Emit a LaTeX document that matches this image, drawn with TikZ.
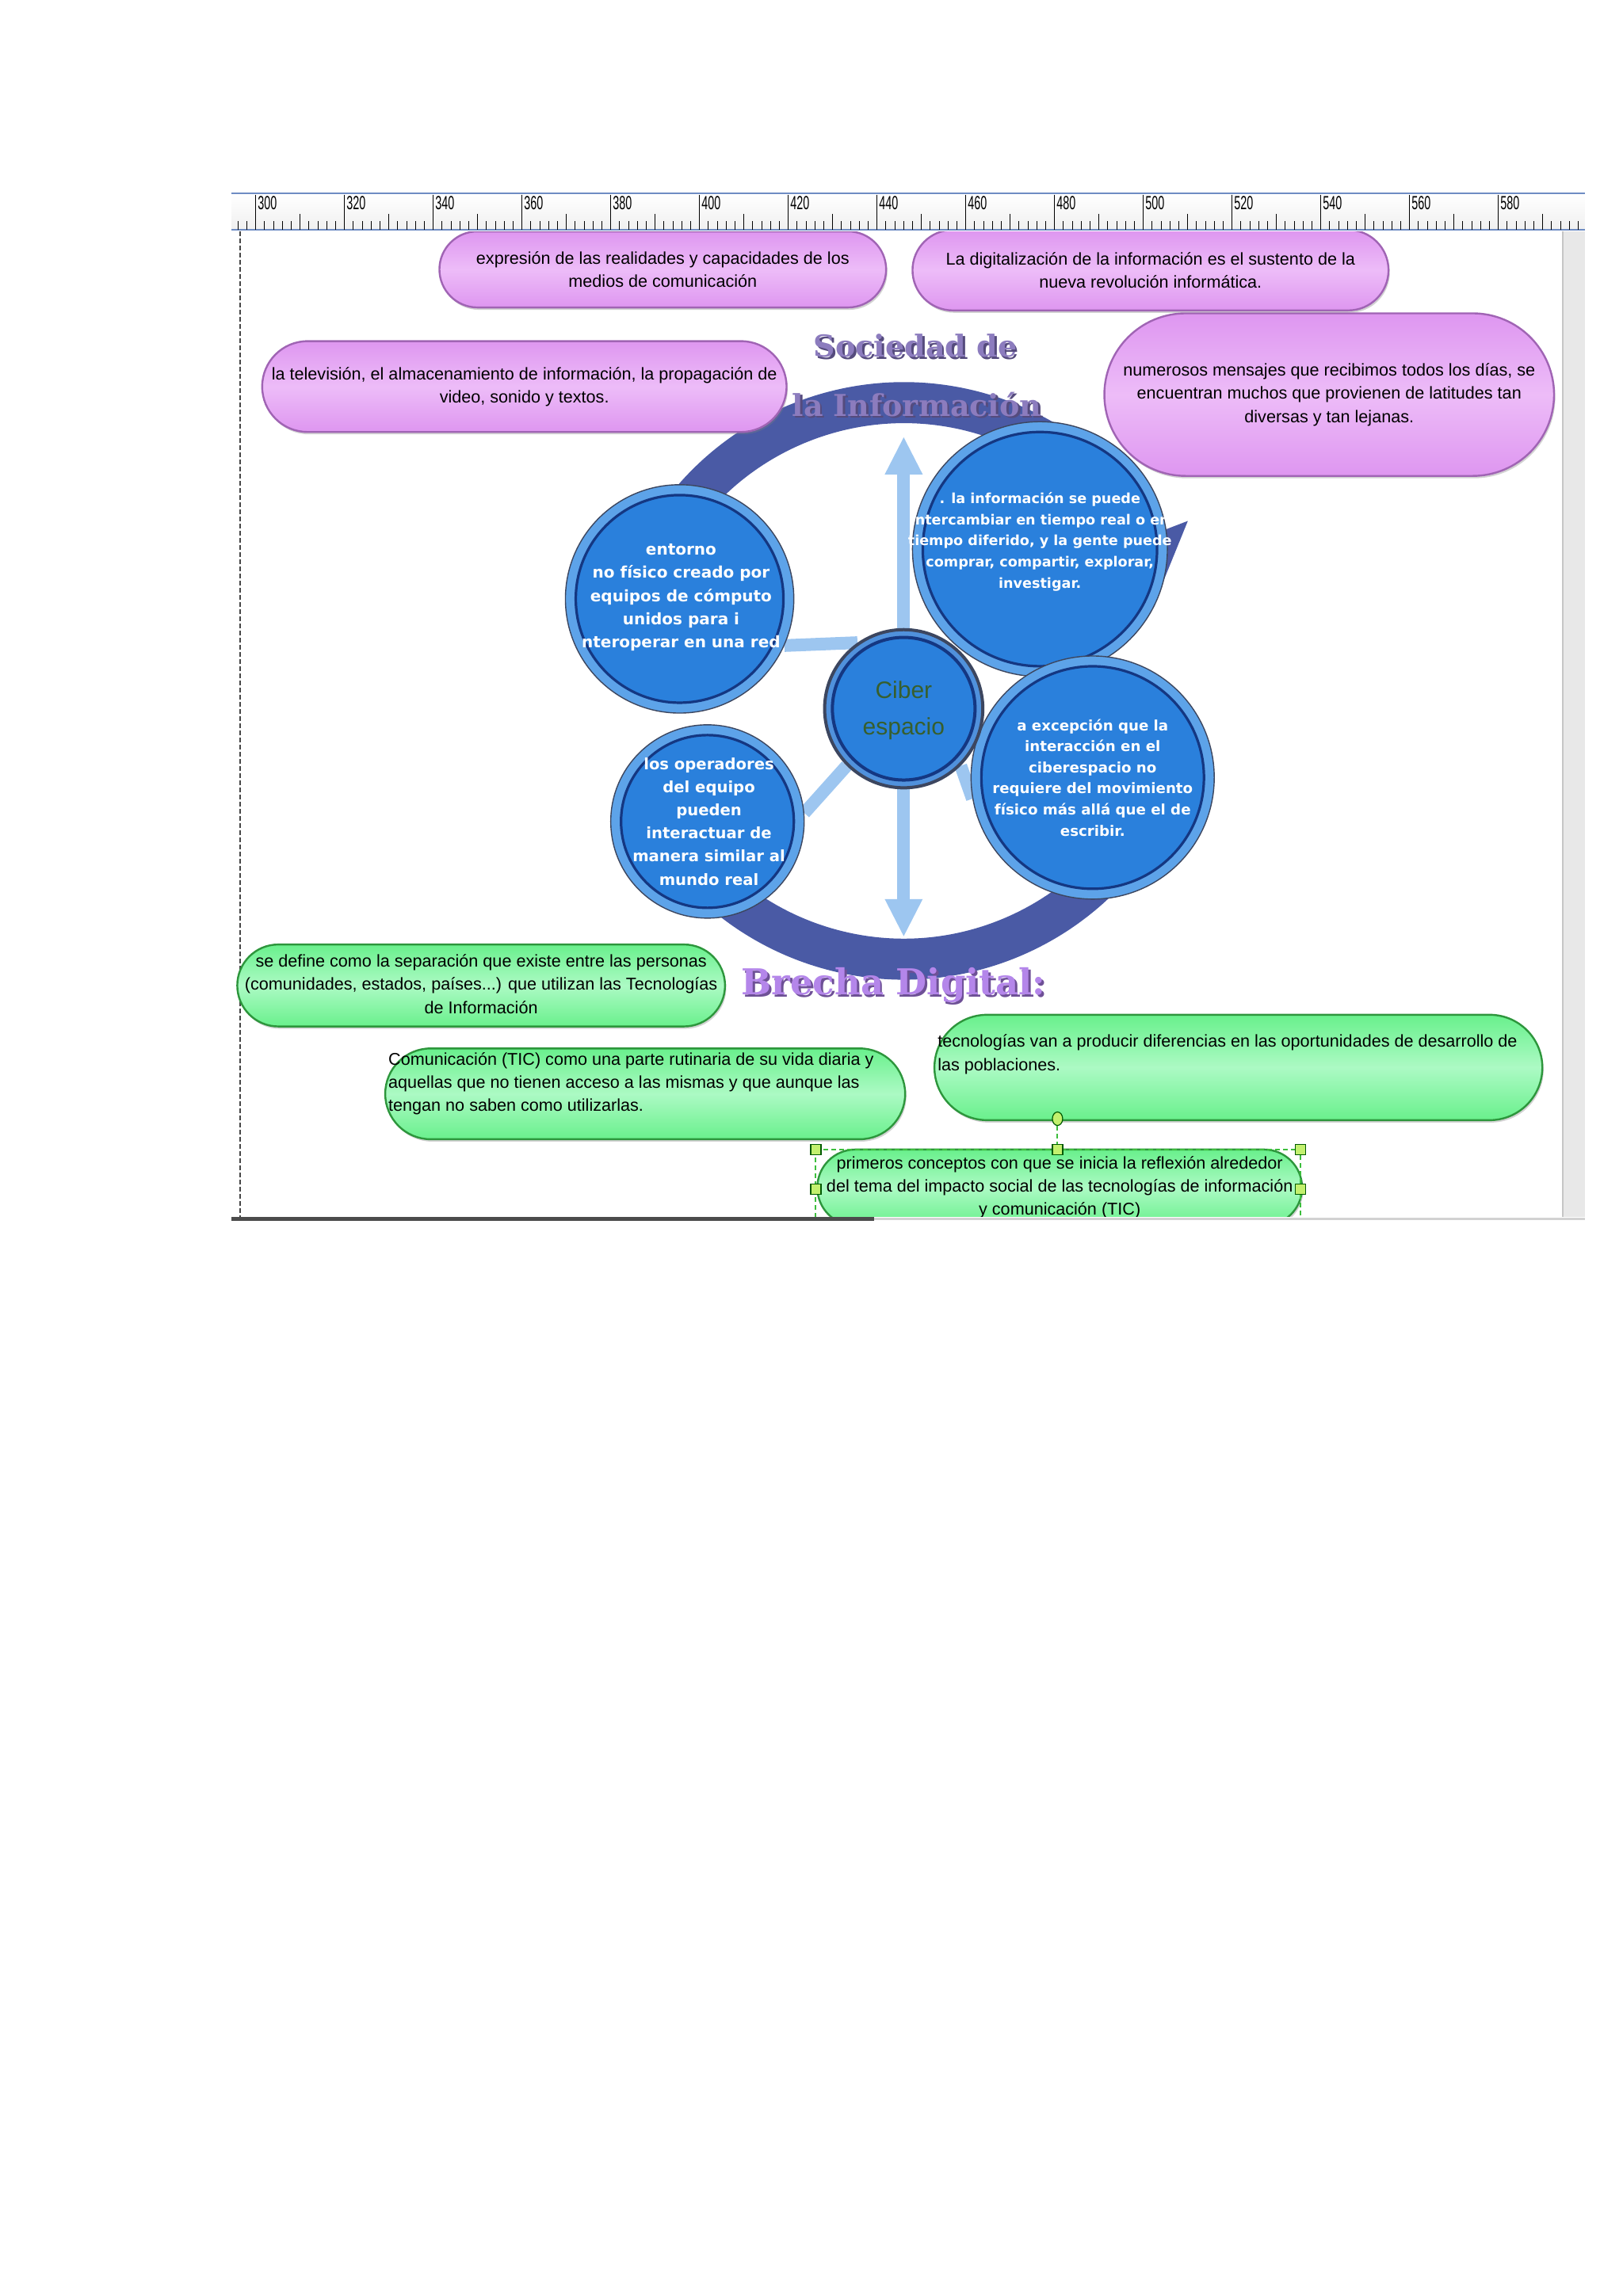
\documentclass[tikz,border=0pt]{standalone}
\usepackage{fontspec}
\setmainfont{Liberation Sans}
\newfontfamily\circfont{DejaVu Sans}
\newfontfamily\titlefont{DejaVu Serif}
\usetikzlibrary{shapes.misc,shapes.geometric,arrows.meta,shadows}
\pgfdeclarelayer{paper}
\pgfdeclarelayer{back}
\pgfsetlayers{paper,back,main}

\definecolor{ringblue}{RGB}{74,90,165}
\definecolor{connblue}{RGB}{157,198,240}
\definecolor{outerblue}{RGB}{93,163,233}
\definecolor{innerblue}{RGB}{42,128,220}
\definecolor{navyc}{RGB}{20,55,130}
\definecolor{circedge}{RGB}{60,70,95}
\definecolor{purpA}{RGB}{222,150,240}
\definecolor{purpB}{RGB}{237,188,248}
\definecolor{purpEdge}{RGB}{160,100,180}
\definecolor{greenA}{RGB}{105,240,140}
\definecolor{greenB}{RGB}{172,250,196}
\definecolor{greenEdge}{RGB}{45,150,60}
\definecolor{titleviolet}{RGB}{140,124,190}
\definecolor{titleshadow}{RGB}{85,75,125}
\definecolor{brechaviolet}{RGB}{180,134,234}
\definecolor{brechashadow}{RGB}{110,80,150}
\definecolor{cibergreen}{RGB}{55,95,45}
\definecolor{rulerblue}{RGB}{110,140,195}
\definecolor{selgreen}{RGB}{60,190,60}
\definecolor{handlefill}{RGB}{195,240,110}

\begin{document}
\begin{tikzpicture}[x=0.924pt, y=-0.924pt,
  pbox/.style={rounded rectangle, draw=purpEdge, line width=1.2pt, top color=purpA, bottom color=purpA, middle color=purpB, inner sep=0pt, drop shadow={shadow xshift=0.8pt, shadow yshift=-1.5pt, opacity=0.35}},
  gbox/.style={rounded rectangle, draw=greenEdge, line width=1.2pt, top color=greenA, bottom color=greenA, middle color=greenB, inner sep=0pt, drop shadow={shadow xshift=0.8pt, shadow yshift=-1.5pt, opacity=0.35}},
  boxtext/.style={font=\fontsize{10.8}{14.6}\selectfont, align=center, inner sep=0pt},
  bcirc/.style 2 args={circle, minimum size=#1, inner sep=0pt, draw=circedge, line width=0.7pt, fill=outerblue,
     path picture={\draw[navyc, line width=1.6pt, fill=innerblue] (path picture bounding box.center) circle[radius=#2];}},
  ccirc/.style={circle, minimum size=99.8pt, inner sep=0pt, draw=circedge, line width=2pt, fill={rgb,255:red,80;green,145;blue,220},
     path picture={\draw[navyc, line width=2pt, fill=innerblue] (path picture bounding box.center) circle[radius=45pt];}},
  circtext/.style={text=white, align=center, inner sep=0pt, font=\circfont\bfseries\fontsize{#1}{14.6}\selectfont},
  circtextsm/.style={text=white, align=center, inner sep=0pt, font=\circfont\bfseries\fontsize{#1}{13.3}\selectfont},
  titlest/.style={inner sep=0pt, font=\titlefont\bfseries\fontsize{#1}{#1}\selectfont},
  conn/.style={connblue, line width=8pt},
  connarrow/.style={conn, -{Triangle[width=22pt,length=24pt]}},
  ringst/.style={ringblue, line width=25.9pt},
  handle/.style={rectangle, draw=green!35!black, fill=handlefill, line width=0.6pt, minimum size=6.5pt, inner sep=0pt},
  selline/.style={selgreen, line width=1pt, dash pattern=on 3pt off 2pt}
]
\begin{pgfonlayer}{paper}
  \fill[white] (0,0) rectangle (1108,1568);
\end{pgfonlayer}
\useasboundingbox (0,0) rectangle (1108,1568);

% ruler
\fill[top color=white, bottom color=gray!12] (158,132) rectangle (1082,157);
\draw[rulerblue, line width=1.2pt] (158,132) -- (1082,132);
\draw[rulerblue, line width=1.2pt] (158,157) -- (1082,157);
\foreach \u in {296,298,...,598} { \draw[black, line width=0.5pt] ({174.6+3.03*(\u-300)},151) -- ++(0,6); }
\foreach \u in {300,310,...,590} { \draw[black, line width=0.5pt] ({174.6+3.03*(\u-300)},146) -- ++(0,11); }
\foreach \u in {300,320,...,580} {
  \draw[black, line width=0.6pt] ({174.6+3.03*(\u-300)},133) -- ++(0,24);
  \node[anchor=north west, inner sep=0pt] (rl\u) at ({175.8+3.03*(\u-300)},134) {\scalebox{0.6}[1]{\fontsize{12}{12}\selectfont \u}};
}

% page frame
\draw[gray!55!black, line width=0.8pt, dash pattern=on 3pt off 1.5pt] (164,158) -- (164,831);
\fill[gray!18] (1067,158) rectangle (1082,831);
\draw[gray!45, line width=0.6pt] (1067,158) -- (1067,831);
\draw[gray!60!black, line width=2.5pt] (158,832.5) -- (597,832.5);
\draw[gray!35, line width=1.5pt] (597,832.5) -- (1082,832.5);

\coordinate (ringc) at (617,465);
\coordinate (upTip) at (617,298);
\coordinate (downTip) at (617,640);

\begin{scope}
\clip (158,158) rectangle (1066,831);

% circles
\node[bcirc={144.1pt}{65.5pt}] (B) at (464,409) {};
\node[bcirc={122pt}{54.5pt}] (C) at (483,561) {};
\node[bcirc={160.8pt}{73.9pt}] (D) at (710,375) {};
\node[bcirc={153.4pt}{70.2pt}] (E) at (746,531) {};
\node[ccirc] (A) at (617,484) {};

\node[circtext=10] (Bt) at (465,408) {entorno\\no físico creado por\\equipos de cómputo\\unidos para i\\nteroperar en una red};
\node[circtext=9.8] (Ct) at (484,561) {los operadores\\del equipo\\pueden\\interactuar de\\manera similar al\\mundo real};
\node[circtextsm=8.8] (Dt) at (710,370) {. la información se puede\\intercambiar en tiempo real o en\\tiempo diferido, y la gente puede\\comprar, compartir, explorar,\\investigar.};
\node[circtextsm=9.1] (Et) at (746,531) {a excepción que la\\interacción en el\\ciberespacio no\\requiere del movimiento\\físico más allá que el de\\escribir.};
\node[text=cibergreen, align=center, inner sep=0pt, font=\fontsize{15}{23}\selectfont] (At) at (617,485) {Ciber\\espacio};

% titles
\node[titlest=19, text=titleshadow] (S1s) at (626.5,237.5) {Sociedad de};
\node[titlest=19, text=titleviolet] (S1) at (625,236) {Sociedad de};
\node[titlest=19, text=titleshadow] (S2s) at (627.5,277.5) {la Información};
\node[titlest=19, text=titleviolet] (S2) at (626,276) {la Información};
\node[titlest=22.5, text=brechashadow] (S3s) at (611.5,674.5) {Brecha Digital:};
\node[titlest=22.5, text=brechaviolet] (S3) at (610,673) {Brecha Digital:};

% purple boxes
\node[pbox, minimum width=281.8pt, minimum height=48pt] (PA) at (452.5,184) {};
\node[boxtext] (PAt) at (PA) {expresión de las realidades y capacidades de los\\medios de comunicación};
\node[pbox, minimum width=300.3pt, minimum height=50.8pt] (PB) at (785.5,184.5) {};
\node[boxtext] (PBt) at (PB) {La digitalización de la información es el sustento de la\\nueva revolución informática.};
\node[pbox, minimum width=330.8pt, minimum height=57.3pt] (PC) at (358,264) {};
\node[boxtext] (PCt) at (PC) {la televisión, el almacenamiento de información, la propagación de\\video, sonido y textos.};
\node[pbox, minimum width=283.7pt, minimum height=102.6pt] (PD) at (907.5,269.5) {};
\node[boxtext] (PDt) at (PD) {numerosos mensajes que recibimos todos los días, se\\encuentran muchos que provienen de latitudes tan\\diversas y tan lejanas.};

% green boxes
\node[gbox, minimum width=307.7pt, minimum height=51.7pt] (G1) at (328.5,673) {};
\node[boxtext] (G1t) at (328.5,672) {se define como la separación que existe entre las personas\\(comunidades, estados, países...) que utilizan las Tecnologías\\de Información};
\node[gbox, minimum width=328pt, minimum height=57.3pt] (G2) at (440.5,747) {};
\node[boxtext, align=left, anchor=west] (G2t) at (265,740) {Comunicación (TIC) como una parte rutinaria de su vida diaria y\\aquellas que no tienen acceso a las mismas y que aunque las\\tengan no saben como utilizarlas.};
\node[gbox, minimum width=383.5pt, minimum height=66.5pt] (G3) at (845.5,729) {};
\node[boxtext, align=left, anchor=west] (G3t) at (640,720) {tecnologías van a producir diferencias en las oportunidades de desarrollo de\\las poblaciones.};
\node[gbox, minimum width=305.8pt, minimum height=48pt] (G4) at (723.5,811) {};
\node[boxtext] (G4t) at (723.5,811) {primeros conceptos con que se inicia la reflexión alrededor\\del tema del impacto social de las tecnologías de información\\y comunicación (TIC)};

% selection handles
\draw[selline] (557,785) rectangle (888,845);
\node[ellipse, draw=green!35!black, fill=handlefill, line width=0.6pt, minimum width=6.5pt, minimum height=8.5pt, inner sep=0pt] (rot) at (722,764) {};
\node[handle] (h1) at (557,785) {};
\node[handle] (h2) at (722,785) {};
\node[handle] (h3) at (888,785) {};
\node[handle] (h4) at (557,812) {};
\node[handle] (h5) at (888,812) {};
\draw[selline] (rot.south) -- (h2.north);
\end{scope}

% ring and connectors behind
\begin{pgfonlayer}{back}
  \draw[ringst, -{Triangle[width=54pt,length=30pt]}] (ringc) ++(-205:175.56pt) arc[start angle=-205, end angle=-339, radius=175.56pt];
  \draw[ringst] (ringc) ++(-15:175.56pt) arc[start angle=-15, end angle=-155, radius=175.56pt];
  \draw[conn] (B.-24) -- (A.125);
  \draw[conn] (C.5) -- (A.225);
  \draw[conn] (A.-45) -- (E.190);
  \draw[connarrow] (A.north) -- (upTip);
  \draw[connarrow] (A.south) -- (downTip);
\end{pgfonlayer}
\end{tikzpicture}
\end{document}
